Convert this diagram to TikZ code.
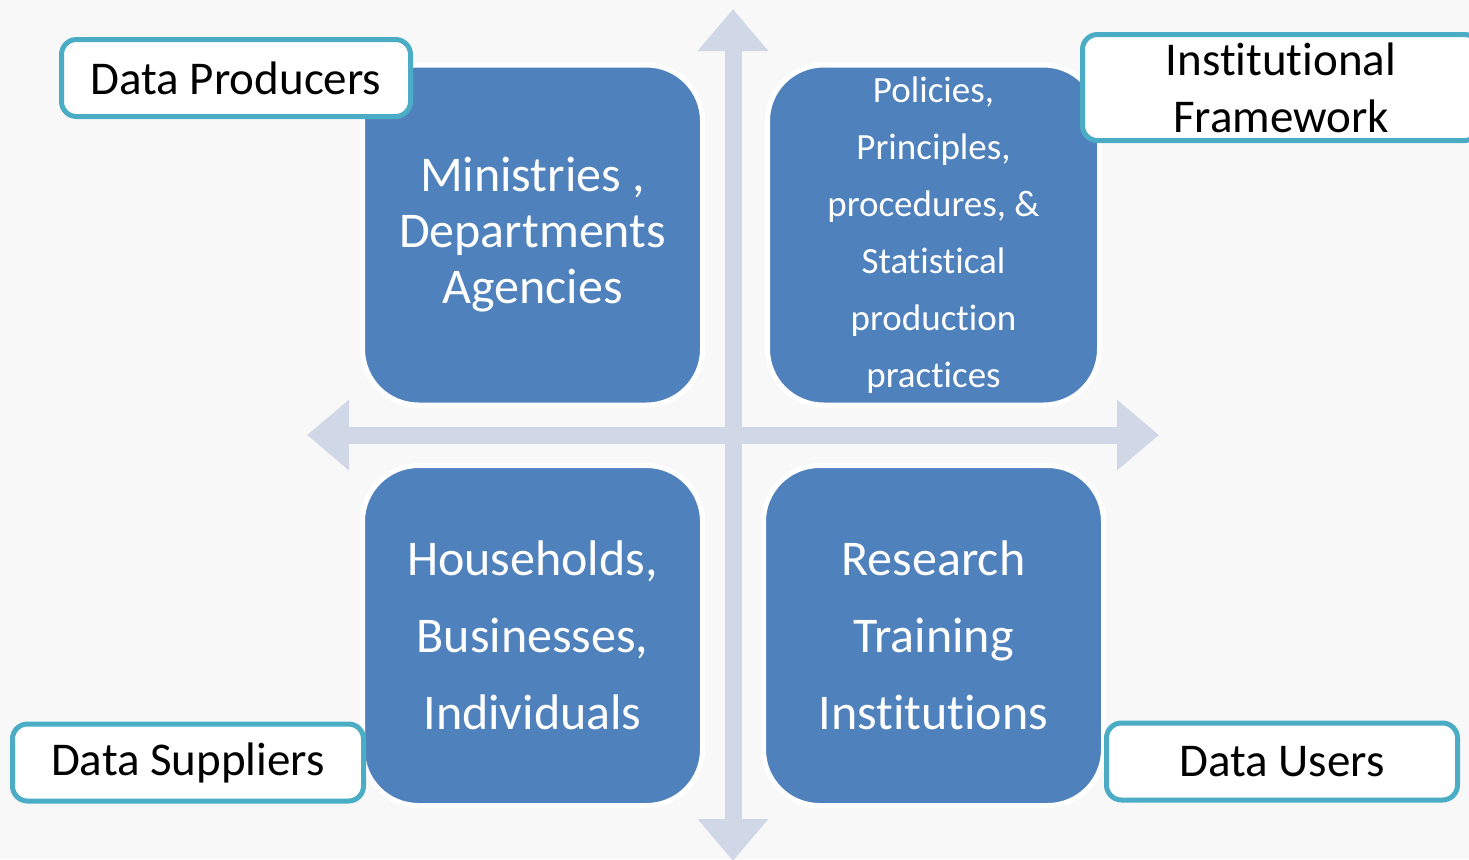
\documentclass[tikz,border=0pt]{standalone}
\usepackage{fontspec}
\setmainfont{Carlito}[Ligatures=NoCommon]
\usetikzlibrary{arrows.meta}
\definecolor{quadblue}{HTML}{4F81BD}
\definecolor{tagteal}{HTML}{4BACC6}
\definecolor{axisgrey}{HTML}{D0D8E8}
\definecolor{slidebg}{HTML}{F8F8F8}
\begin{document}
\begin{tikzpicture}[x=0.5pt, y=0.5pt,
    quad/.style={draw=white, line width=2.5pt, fill=quadblue, rounded corners=28pt,
      text=white, align=center, minimum width=170pt, minimum height=170pt, inner sep=0pt},
    tag/.style={draw=tagteal, line width=2.5pt, fill=white, rounded corners=7.5pt,
      align=center, minimum height=38.5pt, inner sep=0pt,
      font=\fontsize{23.5}{28.5}\selectfont},
    axis/.style={draw=axisgrey, line width=8.5pt,
      {Triangle[length=21pt,width=34pt]}-{Triangle[length=21pt,width=34pt]}}]
    % page and background
    \useasboundingbox (0,0) rectangle (1469,-859);
    \fill [slidebg] (0,0) rectangle (1469,-859);
    \clip (0,0) rectangle (1469,-859);
    % the two axes
    \coordinate (north) at (733,-9);
    \coordinate (south) at (733,-861);
    \coordinate (west) at (307,-435);
    \coordinate (east) at (1159,-435);
    \draw [axis] (west) -- (east);
    \draw [axis] (south) -- (north);
    % quadrants
    \node [quad, font=\fontsize{25}{28}\selectfont] (mda) at (532.5,-235)
        {Ministries ,\\Departments\\Agencies};
    \node [quad, minimum width=166pt, font=\fontsize{18.5}{28.5}\selectfont] (policy) at (933.5,-235)
        {Policies,\\Principles,\\procedures, \&\\Statistical\\production\\practices};
    \node [quad, font=\fontsize{25}{38.5}\selectfont] (homes) at (532.5,-635.5)
        {Households,\\Businesses,\\Individuals};
    \node [quad, font=\fontsize{25}{38.5}\selectfont] (research) at (933.5,-635.5)
        {Research\\Training\\Institutions};
    % labels
    \node [tag, minimum width=174.5pt] (producers) at (236,-78) {Data Producers};
    \node [tag, minimum width=198.5pt, minimum height=53pt] (framework) at (1281,-87.5)
        {Institutional\\Framework};
    \node [tag, minimum width=175.5pt] (suppliers) at (188,-762.5) {Data Suppliers};
    \node [tag, minimum width=175.5pt] (users) at (1282,-761.5) {Data Users};
\end{tikzpicture}
\end{document}
